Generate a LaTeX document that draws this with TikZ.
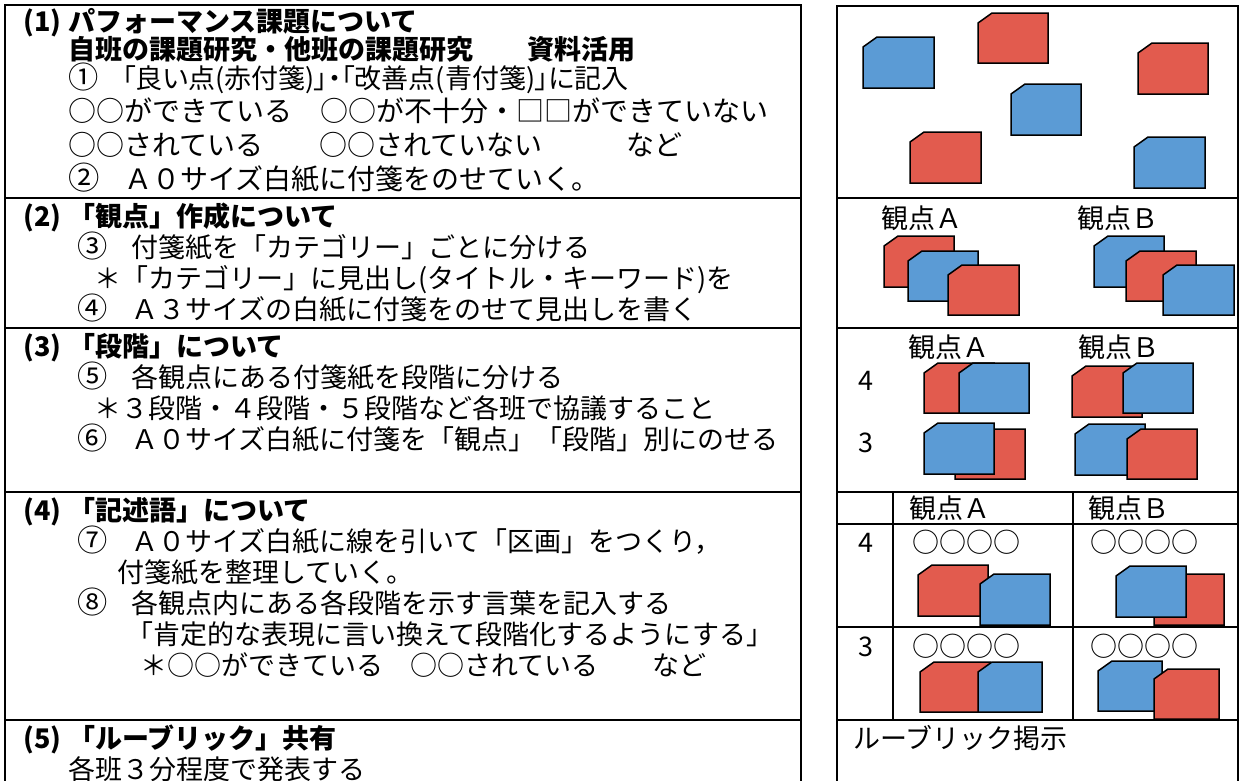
\documentclass[tikz,border=0pt]{standalone}
\usepackage{fontspec}
\setmainfont{Noto Sans CJK JP}
\newfontfamily\palfont[RawFeature=+palt]{Noto Sans CJK JP}
\definecolor{notered}{RGB}{226,91,78}
\definecolor{noteblue}{RGB}{91,155,213}
\tikzset{
  frame/.style={line width=2pt},
  txt/.style={anchor=base west, inner sep=0pt, font=\fontsize{27}{32}\selectfont},
  txtb/.style={anchor=base west, inner sep=0pt, font=\fontsize{28}{32}\selectfont},
  hd/.style={anchor=base west, inner sep=0pt, font=\fontsize{27}{32}\selectfont\bfseries},
  notestyle/.style={draw=black, line width=1.5pt, line join=miter},
}
\newcommand\snote[5]{\draw[notestyle,fill=#1] (#2,#3+10) -- (#2+14,#3) -- (#2+#4,#3) -- (#2+#4,#3+#5) -- (#2,#3+#5) -- cycle;}
\newcommand\hnum[1]{\makebox[45pt][l]{#1}}
\newcommand\cnum[1]{\makebox[1em][l]{\scalebox{1.12}{#1}}}
\begin{document}
\begin{tikzpicture}[x=1pt,y=-1pt]
\useasboundingbox (0,0) rectangle (1240,780);
\fill[white] (0,0) rectangle (1240,780);
% ---------- frames ----------
\draw[frame] (5,790) -- (5,5) -- (801,5) -- (801,790);
\foreach \yy in {198,328,492,720} \draw[frame] (5,\yy) -- (801,\yy);
\draw[frame] (837,790) -- (837,6) -- (1238,6) -- (1238,790);
\foreach \yy in {198,328,492,524,627,720} \draw[frame] (837,\yy) -- (1238,\yy);
\draw[frame] (893,492) -- (893,720);
\draw[frame] (1073,492) -- (1073,720);
% ---------- left column text ----------
\node[hd] (h1) at (23,31) {\hnum{(1)}パフォーマンス課題について};
\node[hd] (h1b) at (68,59) {自班の課題研究・他班の課題研究　　資料活用};
\node[txt] (l1) at (68,88) {\cnum{①}　{\palfont 「良い点(赤付箋)」・「改善点(青付箋)」に記入}};
\node[txtb] (l2) at (68,121) {○○ができている　○○が不十分・□□ができていない};
\node[txtb] (l3) at (68,155) {○○されている　　○○されていない　　　など};
\node[txtb] (l4) at (68,189) {\cnum{②}　Ａ０サイズ白紙に付箋をのせていく。};

\node[hd] (h2) at (23,226) {\hnum{(2)}「観点」作成について};
\node[txt] (l5) at (77,257) {\cnum{③}　付箋紙を「カテゴリー」ごとに分ける};
\node[txt] (l6) at (94,288) {＊「カテゴリー」に見出し(タイトル・キーワード)を};
\node[txt] (l7) at (77,319) {\cnum{④}　Ａ３サイズの白紙に付箋をのせて見出しを書く};

\node[hd] (h3) at (23,356) {\hnum{(3)}「段階」について};
\node[txt] (l8) at (77,387) {\cnum{⑤}　各観点にある付箋紙を段階に分ける};
\node[txt] (l9) at (94,418) {＊３段階・４段階・５段階など各班で協議すること};
\node[txt] (l10) at (77,449) {\cnum{⑥}　Ａ０サイズ白紙に付箋を「観点」「段階」別にのせる};

\node[hd] (h4) at (23,520) {\hnum{(4)}「記述語」について};
\node[txt] (l11) at (77,551) {\cnum{⑦}　Ａ０サイズ白紙に線を引いて「区画」をつくり，};
\node[txt] (l12) at (117,582) {付箋紙を整理していく。};
\node[txt] (l13) at (77,613) {\cnum{⑧}　各観点内にある各段階を示す言葉を記入する};
\node[txt] (l14) at (126,644) {「肯定的な表現に言い換えて段階化するようにする」};
\node[txt] (l15) at (140,675) {＊○○ができている　○○されている　　など};

\node[hd] (h5) at (23,748) {\hnum{(5)}「ルーブリック」共有};
\node[txt] (l16) at (68,779) {各班３分程度で発表する};
% ---------- right column ----------
% row 1
\snote{noteblue}{863}{37}{71}{51}
\snote{notered}{978}{13}{70}{50}
\snote{notered}{1138}{43}{70}{51}
\snote{noteblue}{1011}{84}{70}{51}
\snote{notered}{910}{132}{71}{51}
\snote{noteblue}{1134}{137}{71}{51}
% row 2
\node[txt] (r2a) at (881,228) {観点Ａ};
\node[txt] (r2b) at (1077,228) {観点Ｂ};
\snote{notered}{884}{236}{70}{51}
\snote{noteblue}{908}{251}{70}{50}
\snote{notered}{948}{265}{71}{50}
\snote{noteblue}{1094}{236}{70}{51}
\snote{notered}{1126}{251}{70}{50}
\snote{noteblue}{1163}{265}{71}{50}
% row 3
\node[txt] (r3a) at (908,357) {観点Ａ};
\node[txt] (r3b) at (1078,357) {観点Ｂ};
\node[txt] (r3four) at (858,390) {4};
\node[txt] (r3three) at (858,452) {3};
\snote{notered}{924}{363}{70}{50}
\snote{noteblue}{959}{363}{70}{50}
\snote{notered}{1072}{366}{70}{51}
\snote{noteblue}{1123}{363}{70}{50}
\snote{notered}{955}{429}{70}{50}
\snote{noteblue}{924}{423}{70}{51}
\snote{noteblue}{1075}{424}{70}{51}
\snote{notered}{1127}{429}{70}{50}
% row 4 table
\node[txt] (t4a) at (909,518) {観点Ａ};
\node[txt] (t4b) at (1088,518) {観点Ｂ};
\node[txt] (t4four) at (858,552) {4};
\node[txt] (t4three) at (858,656) {3};
\node[txt] (t4a4) at (912,552) {○○○○};
\node[txt] (t4b4) at (1090,552) {○○○○};
\node[txt] (t4a3) at (912,656) {○○○○};
\node[txt] (t4b3) at (1090,656) {○○○○};
\snote{notered}{918}{565}{70}{51}
\snote{noteblue}{980}{574}{70}{51}
\snote{notered}{1154}{574}{70}{51}
\snote{noteblue}{1116}{566}{70}{51}
\snote{notered}{920}{662}{70}{50}
\snote{noteblue}{978}{662}{64}{50}
\snote{noteblue}{1098}{661}{64}{50}
\snote{notered}{1154}{669}{65}{50}
% row 5
\node[txt] (r5) at (853,748) {ルーブリック掲示};
\end{tikzpicture}
\end{document}
